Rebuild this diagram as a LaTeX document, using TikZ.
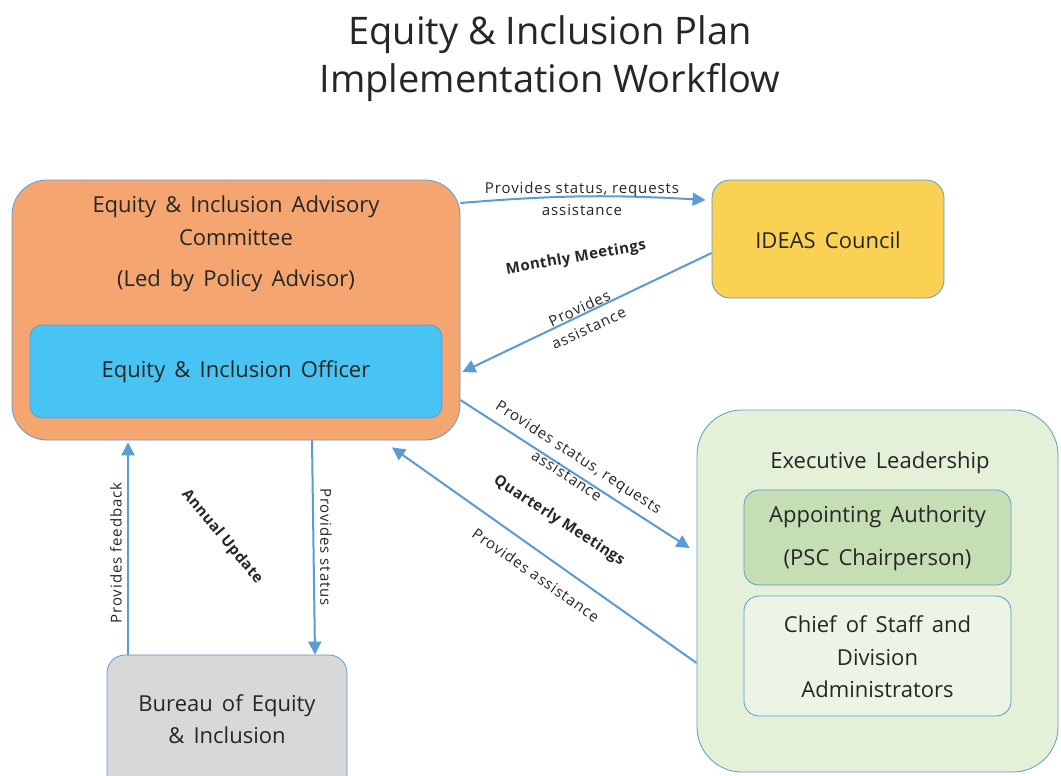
\documentclass[tikz,border=0pt]{standalone}
\usepackage{fontspec}
\setmainfont{Open Sans}
\newfontfamily\bodyfont[WordSpace=1.6]{Open Sans}
\newfontfamily\labelfont[LetterSpace=6]{Open Sans}
\newfontfamily\boldlabelfont[LetterSpace=3]{Open Sans}
\usetikzlibrary{arrows.meta}
\definecolor{advorange}{RGB}{245,166,112}
\definecolor{officerblue}{RGB}{72,196,244}
\definecolor{ideasyellow}{RGB}{251,209,84}
\definecolor{execgreen}{RGB}{228,240,216}
\definecolor{apptgreen}{RGB}{197,222,179}
\definecolor{chiefgreen}{RGB}{236,245,229}
\definecolor{bureaugray}{RGB}{216,216,216}
\definecolor{linkblue}{RGB}{91,155,213}
\definecolor{inkgray}{RGB}{38,38,38}

\tikzset{
  box/.style={draw=linkblue, line width=0.8pt, rectangle},
  link/.style={draw=linkblue, line width=2pt, -{Triangle[length=13pt,width=13pt]}},
  btxt/.style={font=\bodyfont\fontsize{22}{33}\selectfont, align=center},
  lbl/.style={font=\labelfont\fontsize{15}{22}\selectfont, text=inkgray, align=center, inner sep=0pt},
  blbl/.style={font=\boldlabelfont\fontsize{15}{17}\selectfont\bfseries, text=inkgray, inner sep=0pt}
}

\begin{document}
\begin{tikzpicture}[x=1pt, y=-1pt, text=inkgray]
        \clip (0, 0) rectangle (1061, 776);
        \fill[white] (0, 0) rectangle (1061, 776);
        \node[font=\fontsize{38}{48}\selectfont, align=center] (title) at (550, 59)
          {Equity \& Inclusion Plan\\Implementation Workflow};
        % boxes
        \node[box, fill=advorange, minimum width=448pt, minimum height=260pt, rounded corners=35pt] (adv) at (236, 310) {};
        \node[box, fill=officerblue, minimum width=412pt, minimum height=93pt, rounded corners=12pt] (off) at (236, 371.5) {};
        \node[box, fill=ideasyellow, minimum width=232pt, minimum height=118pt, rounded corners=18pt] (ideas) at (828, 239) {};
        \node[box, fill=execgreen, minimum width=361pt, minimum height=362pt, rounded corners=45pt] (exec) at (877.5, 591) {};
        \node[box, fill=apptgreen, minimum width=267pt, minimum height=95pt, rounded corners=15pt] (appt) at (877.5, 537.5) {};
        \node[box, fill=chiefgreen, minimum width=267pt, minimum height=120pt, rounded corners=15pt] (chief) at (877.5, 656) {};
        \node[box, fill=bureaugray, minimum width=240pt, minimum height=140pt, rounded corners=18pt] (bur) at (227, 725) {};
        % box texts
        \node[btxt] (advtxt) at (236, 221) {Equity \& Inclusion Advisory\\Committee};
        \node[btxt] (ledtxt) at (236, 281) {(Led by Policy Advisor)};
        \node[btxt] (offtxt) at (236, 372) {Equity \& Inclusion Officer};
        \node[btxt] (ideastxt) at (828, 240) {IDEAS Council};
        \node[btxt] (exectxt) at (880, 463) {Executive Leadership};
        \node[btxt, font=\bodyfont\fontsize{22}{43}\selectfont] (appttxt) at (877.5, 538) {Appointing Authority\\(PSC Chairperson)};
        \node[btxt, font=\bodyfont\fontsize{22}{32.5}\selectfont] (chieftxt) at (877.5, 657) {Chief of Staff and\\Division\\Administrators};
        \node[btxt, font=\bodyfont\fontsize{22}{32}\selectfont] (burtxt) at (227, 719) {Bureau of Equity\\\& Inclusion};
        % connectors
        \draw[link] ([yshift=107pt]adv.east) to[bend left=4] ([xshift=-6pt, yshift=39pt]ideas.west);
        \draw[link] ([yshift=-14pt]ideas.west) -- ([xshift=2pt, yshift=-62pt]adv.east);
        \draw[link] ([yshift=-90pt]adv.east) -- ([xshift=-7pt, yshift=43pt]exec.west);
        \draw[link] ([yshift=-72pt]exec.west) -- ([xshift=156pt, yshift=-7pt]adv.south);
        \draw[link] ([xshift=-99pt]bur.north) -- ([xshift=-108pt, yshift=-2pt]adv.south);
        \draw[link] ([xshift=76pt]adv.south) -- ([xshift=88pt]bur.north);
        % labels
        \node[lbl] (l1) at (582, 199) {Provides status, requests\\assistance};
        \node[blbl, rotate=10] (m1) at (576, 258) {Monthly Meetings};
        \node[lbl, rotate=25] (l2) at (584, 318) {Provides\\assistance};
        \node[lbl, rotate=-33] (l3) at (573, 466) {Provides status, requests\\assistance};
        \node[blbl, rotate=-33] (m2) at (559, 521) {Quarterly Meetings};
        \node[lbl, rotate=-35] (l4) at (536, 575) {Provides assistance};
        \node[lbl, rotate=90] (l5) at (116, 553) {Provides feedback};
        \node[lbl, rotate=-90] (l6) at (326, 547) {Provides status};
        \node[blbl, rotate=-50] (m3) at (222, 537) {Annual Update};
\end{tikzpicture}
\end{document}
